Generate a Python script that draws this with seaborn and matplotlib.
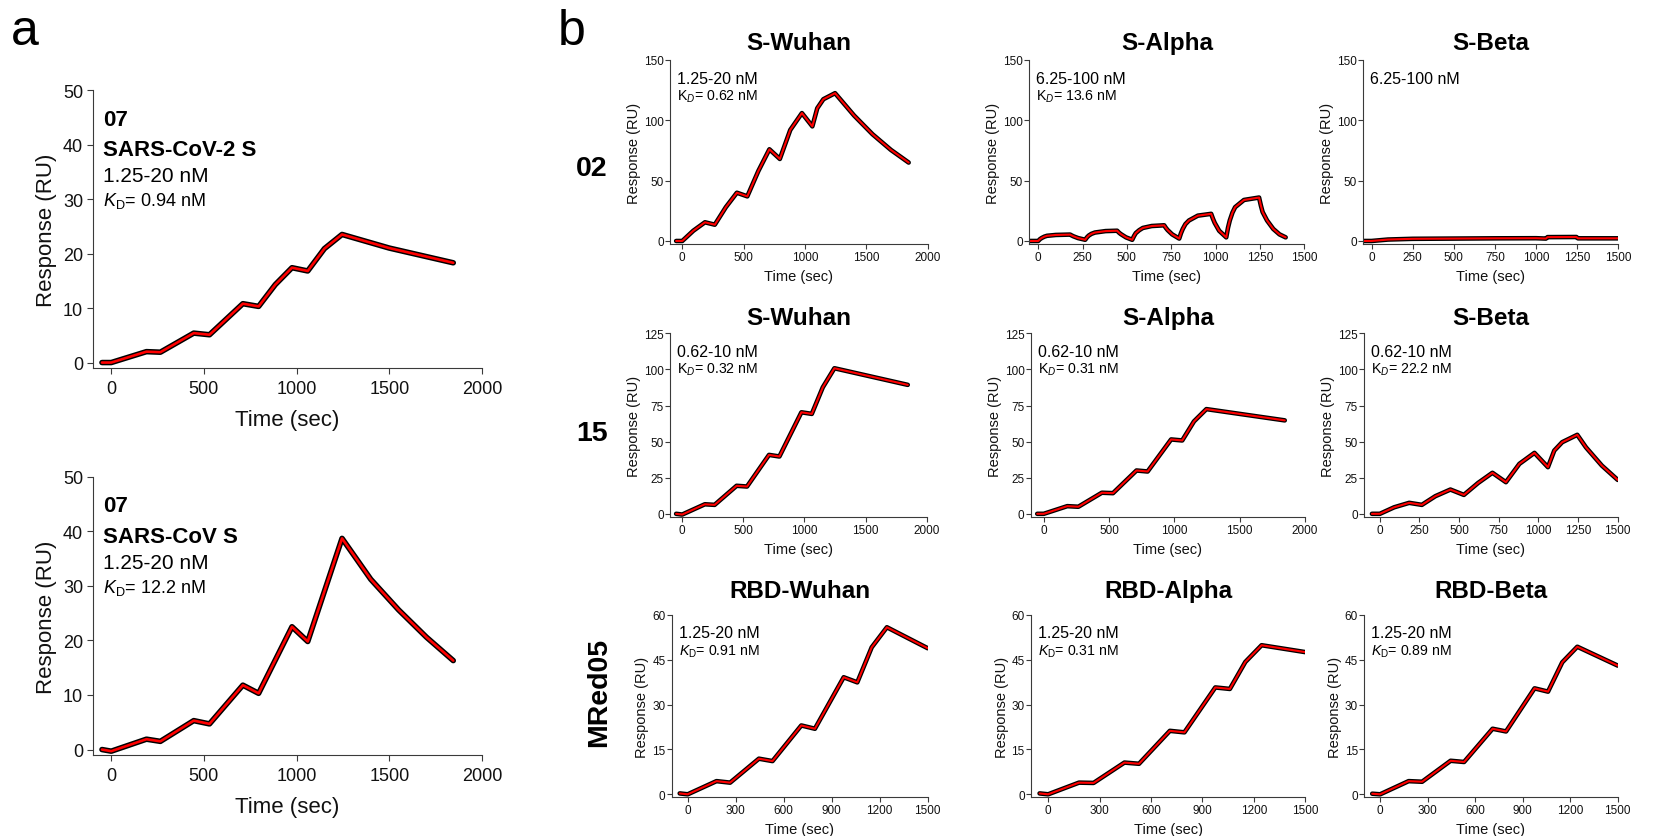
import matplotlib
matplotlib.use("Agg")
import matplotlib.pyplot as plt
import seaborn as sns

sns.set_theme(style="ticks")
plt.rcParams['font.family'] = ['Liberation Sans', 'DejaVu Sans']
plt.rcParams['mathtext.fontset'] = 'custom'
plt.rcParams['mathtext.rm'] = 'Liberation Sans'
plt.rcParams['mathtext.it'] = 'Liberation Sans:italic'
plt.rcParams['mathtext.bf'] = 'Liberation Sans:bold'
plt.rcParams['text.color'] = 'black'
plt.rcParams['axes.labelcolor'] = 'black'

# ---------------- Panel a: antibody 07 single-cycle kinetics ----------------
a1_time = [-50, 0, 190, 265, 445, 530, 710, 795, 885, 975, 1060, 1150, 1245, 1500, 1845]
a1_resp = [0.0, 0.0, 2.0, 1.9, 5.4, 5.1, 10.8, 10.3, 14.3, 17.4, 16.8, 20.9, 23.5, 21.0, 18.3]

a2_time = [-50, 0, 190, 265, 445, 530, 710, 795, 975, 1060, 1245, 1400, 1550, 1700, 1845]
a2_resp = [0.0, -0.3, 1.9, 1.5, 5.3, 4.7, 11.8, 10.3, 22.5, 19.8, 38.7, 31.2, 25.6, 20.6, 16.3]

# ---------------- Panel b: row 02 ----------------
b02_wuhan_time = [-50, 0, 90, 185, 265, 355, 445, 530, 620, 710, 795, 880, 975, 1060,
                  1100, 1150, 1245, 1400, 1550, 1700, 1845]
b02_wuhan_resp = [0, 0, 8.5, 15.5, 13.5, 28, 40, 37, 58, 76, 68, 92, 106, 95,
                  110, 117.5, 122.5, 104, 88.5, 75.5, 65]

b02_alpha_time = [-50, 0, 10, 20, 35, 50, 100, 180, 190, 200, 225, 265, 275, 285, 300, 320,
                  380, 445, 455, 465, 495, 530, 540, 550, 570, 590, 640, 710, 720, 730, 755,
                  795, 805, 815, 830, 850, 900, 975, 985, 995, 1020, 1060, 1070, 1080, 1095,
                  1110, 1160, 1245, 1255, 1265, 1290, 1325, 1360, 1395]
b02_alpha_resp = [0, 0, 1.5, 2.5, 3.6, 4.3, 5.0, 5.3, 4.5, 3.8, 2.4, 1.0, 3.0, 4.5, 5.9, 7.0,
                  8.2, 8.5, 7.0, 5.8, 3.0, 1.0, 4.0, 6.5, 9.0, 10.8, 12.4, 13.0, 10.8, 9.0, 5.5,
                  2.0, 6.5, 10.0, 14.0, 17.0, 21.0, 22.5, 18.5, 15.0, 8.5, 3.0, 11.0, 17.0, 23.5,
                  28.0, 34.0, 36.0, 29.5, 24.0, 17.0, 10.0, 5.5, 3.0]

b02_beta_time = [-50, 0, 100, 250, 500, 750, 1000, 1060, 1070, 1245, 1255, 1500]
b02_beta_resp = [0, 0, 1.2, 1.8, 2.0, 2.2, 2.3, 2.0, 3.2, 3.3, 2.2, 2.2]

# ---------------- Panel b: row 15 ----------------
b15_wuhan_time = [-50, 0, 185, 265, 445, 530, 710, 795, 975, 1060, 1150, 1245, 1845]
b15_wuhan_resp = [0, -0.5, 6.6, 6.2, 19.4, 18.9, 40.8, 39.7, 70.3, 69.2, 87.6, 100.8, 89.3]

b15_alpha_time = [-50, 0, 180, 265, 445, 530, 710, 795, 975, 1060, 1150, 1245, 1845]
b15_alpha_resp = [0, 0, 5.3, 4.9, 14.6, 14.3, 30.0, 29.3, 51.5, 50.8, 64.0, 72.5, 64.7]

b15_beta_time = [-50, 0, 90, 185, 265, 350, 445, 530, 620, 710, 795, 880, 975, 1060,
                 1100, 1150, 1245, 1300, 1400, 1500]
b15_beta_resp = [0, 0, 4.5, 7.6, 6.2, 12.2, 16.8, 13.1, 21.4, 28.4, 21.9, 34.6, 42.2, 32.3,
                 43.8, 49.6, 54.7, 46.0, 33.4, 23.5]

# ---------------- Panel b: row MRed05 ----------------
bmr_wuhan_time = [-50, 0, 180, 265, 445, 530, 710, 795, 975, 1060, 1150, 1245, 1500]
bmr_wuhan_resp = [0.3, 0, 4.4, 3.9, 11.9, 11.1, 23.0, 21.9, 39.1, 37.4, 49.1, 55.8, 48.8]

bmr_alpha_time = [-50, 0, 180, 265, 445, 530, 710, 795, 975, 1060, 1150, 1245, 1500]
bmr_alpha_resp = [0.3, 0, 3.9, 3.8, 10.6, 10.2, 21.2, 20.7, 35.7, 35.2, 44.2, 49.8, 47.5]

bmr_beta_time = [-50, 0, 180, 265, 445, 530, 710, 795, 975, 1060, 1150, 1245, 1500]
bmr_beta_resp = [0.2, 0, 4.4, 4.2, 11.2, 10.8, 21.9, 21.0, 35.4, 34.3, 44.1, 49.3, 43.0]

W, H = 1675, 837
fig = plt.figure(figsize=(W / 100, H / 100), dpi=100)
PX = 0.72  # points per pixel at 100 dpi

SPINE = '#3a3a3a'


def new_axes(left, right, top, bottom):
    return fig.add_axes([left / W, 1 - bottom / H, (right - left) / W, (bottom - top) / H])


def draw_trace(ax, t, r, lw_data, lw_fit):
    sns.lineplot(x=t, y=r, ax=ax, color='black', linewidth=lw_data, estimator=None,
                 sort=False, legend=False, solid_joinstyle='round', solid_capstyle='round')
    sns.lineplot(x=t, y=r, ax=ax, color='#ff0000', linewidth=lw_fit, estimator=None,
                 sort=False, legend=False, solid_joinstyle='round')


def style(ax, xlim, xticks, ylim, yticks, fs_tick, fs_label, ticklen, xpad, ypad,
          xlabelpad, ylabelpad):
    ax.set_xlim(xlim)
    ax.set_ylim(ylim)
    ax.set_xticks(xticks)
    ax.set_yticks(yticks)
    sns.despine(ax=ax)
    for s in ('left', 'bottom'):
        ax.spines[s].set_color(SPINE)
        ax.spines[s].set_linewidth(0.8)
    ax.tick_params(axis='both', length=ticklen, width=0.8, color=SPINE,
                   labelsize=fs_tick, labelcolor='#111111')
    ax.tick_params(axis='x', pad=xpad)
    ax.tick_params(axis='y', pad=ypad)
    ax.set_xlabel('Time (sec)', fontsize=fs_label, labelpad=xlabelpad, color='#111111')
    ax.set_ylabel('Response (RU)', fontsize=fs_label, labelpad=ylabelpad, color='#111111')


def put(ax, s, dx, dy, size, weight='normal'):
    ax.annotate(s, xy=(0, 1), xycoords='axes fraction', xytext=(dx * PX, -dy * PX),
                textcoords='offset points', fontsize=size, fontweight=weight,
                ha='left', va='baseline', color='black')


# ---------------- Panel a ----------------
panel_a = [
    (91, 369, a1_time, a1_resp, 'SARS-CoV-2 S', r'$\mathit{K}_{\mathrm{D}}$= 0.94 nM'),
    (477.7, 756, a2_time, a2_resp, 'SARS-CoV S', r'$\mathit{K}_{\mathrm{D}}$= 12.2 nM'),
]
for top, bottom, t, r, antigen, kd in panel_a:
    ax = new_axes(92.7, 482, top, bottom)
    draw_trace(ax, t, r, 4.0, 1.9)
    style(ax, (-100, 2000), [0, 500, 1000, 1500, 2000], (-1, 50), [0, 10, 20, 30, 40, 50],
          13, 16, 4.5, 4, 2.5, 9, 4)
    put(ax, '07', 10.6, 34.5, 16, 'bold')
    put(ax, antigen, 10.6, 65.5, 16, 'bold')
    put(ax, '1.25-20 nM', 10.6, 91.3, 15)
    put(ax, kd, 10.6, 115.3, 13)

# ---------------- Panel b ----------------
rows = [
    # (top, bottom, ylim, yticks, title pad, entries)
    (61, 245, (-2.5, 150), [0, 50, 100, 150], 8, [
        (670, 927.7, 'S-Wuhan', b02_wuhan_time, b02_wuhan_resp, (-100, 2000),
         [0, 500, 1000, 1500, 2000], '1.25-20 nM', r'K$_{\mathit{D}}$= 0.62 nM'),
        (1029.3, 1304.3, 'S-Alpha', b02_alpha_time, b02_alpha_resp, (-50, 1500),
         [0, 250, 500, 750, 1000, 1250, 1500], '6.25-100 nM', r'K$_{\mathit{D}}$= 13.6 nM'),
        (1363.3, 1618.3, 'S-Beta', b02_beta_time, b02_beta_resp, (-50, 1500),
         [0, 250, 500, 750, 1000, 1250, 1500], '6.25-100 nM', None),
    ]),
    (334.3, 517.7, (-2, 125), [0, 25, 50, 75, 100, 125], 6.7, [
        (670, 926.7, 'S-Wuhan', b15_wuhan_time, b15_wuhan_resp, (-100, 2000),
         [0, 500, 1000, 1500, 2000], '0.62-10 nM', r'K$_{\mathit{D}}$= 0.32 nM'),
        (1030.7, 1305, 'S-Alpha', b15_alpha_time, b15_alpha_resp, (-100, 2000),
         [0, 500, 1000, 1500, 2000], '0.62-10 nM', r'K$_{\mathit{D}}$= 0.31 nM'),
        (1364, 1617.7, 'S-Beta', b15_beta_time, b15_beta_resp, (-100, 1500),
         [0, 250, 500, 750, 1000, 1250, 1500], '0.62-10 nM', r'K$_{\mathit{D}}$= 22.2 nM'),
    ]),
    (615.7, 798.3, (-1, 60), [0, 15, 30, 45, 60], 12.5, [
        (671.7, 927.7, 'RBD-Wuhan', bmr_wuhan_time, bmr_wuhan_resp, (-100, 1500),
         [0, 300, 600, 900, 1200, 1500], '1.25-20 nM',
         r'$\mathit{K}_{\mathrm{D}}$= 0.91 nM'),
        (1031, 1305.3, 'RBD-Alpha', bmr_alpha_time, bmr_alpha_resp, (-100, 1500),
         [0, 300, 600, 900, 1200, 1500], '1.25-20 nM',
         r'$\mathit{K}_{\mathrm{D}}$= 0.31 nM'),
        (1364.3, 1617.7, 'RBD-Beta', bmr_beta_time, bmr_beta_resp, (-100, 1500),
         [0, 300, 600, 900, 1200, 1500], '1.25-20 nM',
         r'$\mathit{K}_{\mathrm{D}}$= 0.89 nM'),
    ]),
]

for top, bottom, ylim, yticks, tpad, entries in rows:
    for left, right, title, t, r, xlim, xticks, conc, kd in entries:
        ax = new_axes(left, right, top, bottom)
        draw_trace(ax, t, r, 3.3, 1.5)
        style(ax, xlim, xticks, ylim, yticks, 8.5, 10.5, 3.5, 1.5, 1, 4.5, 2)
        ax.set_title(title, fontsize=17.5, fontweight='bold', pad=tpad, color='black')
        put(ax, conc, 7, 22.5, 11.5)
        if kd is not None:
            put(ax, kd, 7, 39.5, 10.2)

# Row labels for the antibodies
fig.text(592 / W, 1 - 175.7 / H, '02', ha='center', va='baseline', fontsize=20.5,
         fontweight='bold', color='black')
fig.text(592 / W, 1 - 441 / H, '15', ha='center', va='baseline', fontsize=20.5,
         fontweight='bold', color='black')
fig.text(599 / W, 1 - 692.5 / H, 'MRed05', ha='center', va='center', rotation=90,
         fontsize=20.5, fontweight='bold', color='black')

# Panel letters
fig.text(11 / W, 1 - 45 / H, 'a', ha='left', va='baseline', fontsize=36, color='black')
fig.text(558 / W, 1 - 45 / H, 'b', ha='left', va='baseline', fontsize=36, color='black')

fig.savefig('out.png', dpi=100, facecolor='white')
